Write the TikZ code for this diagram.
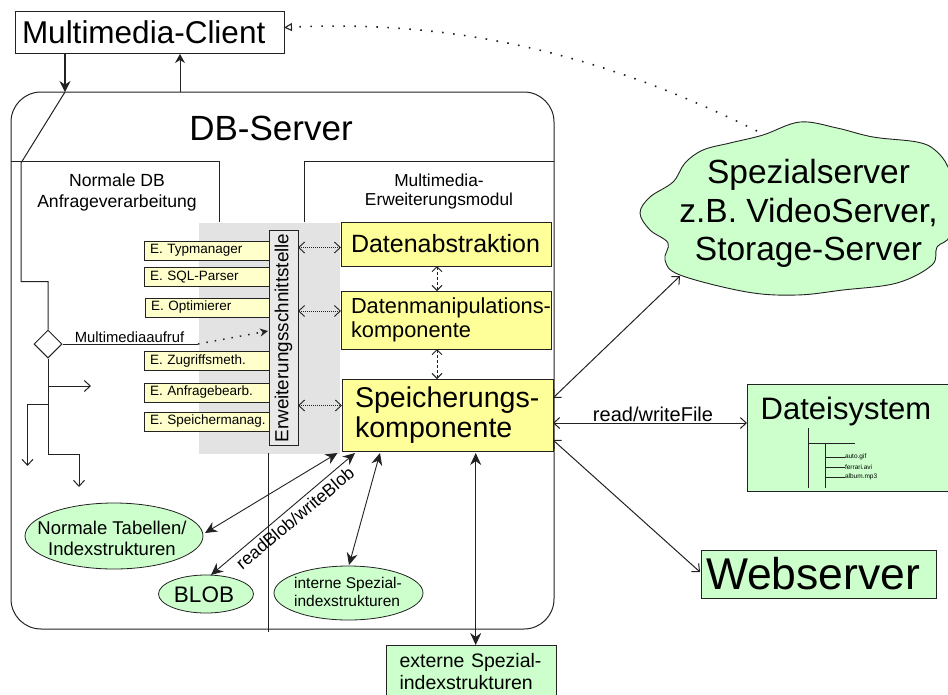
\documentclass[tikz,border=0pt]{standalone}
\usepackage{fontspec}
\setmainfont{Liberation Sans}
\usetikzlibrary{arrows.meta,shapes.geometric,calc}
\definecolor{ygl}{HTML}{FFFF99}
\definecolor{ylt}{HTML}{FFFFCC}
\definecolor{grn}{HTML}{CCFFCC}
\definecolor{gry}{HTML}{E3E3E3}
\definecolor{lin}{HTML}{222222}
\newcommand{\fs}[2]{\fontsize{#1}{#2}\selectfont}
\tikzset{
  x=1pt,y=-1pt,
  bx/.style={draw=lin,inner sep=0pt,outer sep=0pt,text=black,line width=1pt},
  ebox/.style={bx,fill=ylt,anchor=north west,minimum height=19pt,font=\fs{13.5}{13.5},align=left,text width=115pt,inner xsep=6pt},
  ybox/.style={bx,fill=ygl,align=left},
  gbox/.style={bx,fill=grn},
  gell/.style={bx,ellipse,fill=grn,line width=0.8pt},
  lbl/.style={draw=none,inner sep=0pt,outer sep=0pt,text=black},
  fdbl/.style={{Stealth[length=12pt,width=11pt]}-{Stealth[length=12pt,width=11pt]},line width=0.9pt},
  odbl/.style={{Straight Barb[length=6pt,width=11pt]}-{Straight Barb[length=6pt,width=11pt]},line width=1pt},
  dotdbl/.style={{Straight Barb[length=6pt,width=11pt]}-{Straight Barb[length=6pt,width=11pt]},dash pattern=on 1pt off 1pt,line width=0.9pt},
  dshdbl/.style={{Straight Barb[length=5pt,width=10pt]}-{Straight Barb[length=5pt,width=10pt]},dash pattern=on 3pt off 2pt,line width=0.9pt},
  oarr/.style={-{Straight Barb[length=6pt,width=11pt]},line width=1pt},
  farr/.style={-{Stealth[length=9pt,width=10pt]},line width=1pt},
}
\begin{document}
\begin{tikzpicture}[color=lin,line width=1pt]
\useasboundingbox (0,0) rectangle (948,694);
\clip (0,0) rectangle (948,694);
% DB server
\node[bx,draw=lin,fill=white,rounded corners=30pt,minimum width=543pt,minimum height=537pt,anchor=north west] (db) at (11,92) {};
\node[lbl,font=\fs{35}{35}] (dbt) at (271,128) {DB-Server};
% Client
\node[bx,fill=white,minimum width=269pt,minimum height=42pt,font=\fs{31.5}{32},anchor=north west,align=left,text width=255pt] (client) at (15,11) {Multimedia-Client};
% sub-areas
\coordinate (aL) at (11,161.5);\coordinate (aR) at (219,161.5);\coordinate (aB) at (219,222);
\coordinate (bL) at (304,222);\coordinate (bT) at (304,161.5);\coordinate (bR) at (554,161.5);
\draw (aL) -- (aR) -- (aB);
\draw (bL) -- (bT) -- (bR);
\node[lbl,font=\fs{17.6}{21},align=center] (tn) at (117,192.5) {Normale DB\\Anfrageverarbeitung};
\node[lbl,font=\fs{17.3}{19.5},align=center] (tm) at (439,191.5) {Multimedia-\\Erweiterungsmodul};
% grey
\node[draw=none,fill=gry,minimum width=141pt,minimum height=231pt,anchor=north west,inner sep=0pt] (grey) at (198,222) {};
\coordinate (vt) at (268,453);\coordinate (vb) at (268,632);
\draw (vt) -- (vb);
% E boxes
\node[ebox] (e1) at (144,241) {E. Typmanager};
\node[ebox] (e2) at (144,267.5) {\mbox{E. SQL-Parser}};
\node[ebox] (e3) at (145,298) {E. Optimierer};
\node[ebox] (e4) at (144,351.5) {\mbox{E. Zugriffsmeth.}};
\node[ebox] (e5) at (144,383) {\mbox{E. Anfragebearb.}};
\node[ebox] (e6) at (144,412) {\mbox{E. Speichermanag.}};
\node[bx,fill=gry!80!white,minimum width=29pt,minimum height=215pt,anchor=north west] (ew) at (269,230) {};
\node[lbl,rotate=90,font=\fs{18.9}{19}] (ewt) at (283.5,338) {Erweiterungsschnittstelle};
% yellow
\node[ybox,minimum width=210pt,minimum height=44pt,anchor=north west,font=\fs{25}{25},text width=190pt] (d1) at (341,222) {\raisebox{-2pt}{Datenabstraktion}};
\node[ybox,minimum width=210pt,minimum height=58pt,anchor=north west,font=\fs{21.8}{24},text width=190pt] (d2) at (341,291) {\mbox{Datenmanipulations-}\\komponente};
\node[ybox,minimum width=211pt,minimum height=72pt,anchor=north west,font=\fs{28.6}{30},text width=185pt] (d3) at (342,379) {\mbox{Speicherungs-}\\komponente};
% dotted double arrows
\coordinate (c1) at (298,247.5);\coordinate (c1b) at (341,247.5);
\coordinate (c2) at (298,311);\coordinate (c2b) at (341,311);
\coordinate (c3) at (298,405.5);\coordinate (c3b) at (342,405.5);
\draw[dotdbl] (c1) -- (c1b);
\draw[dotdbl] (c2) -- (c2b);
\draw[dotdbl] (c3) -- (c3b);
\coordinate (v1) at (437,266);\coordinate (v1b) at (437,291);
\coordinate (v2) at (437,349);\coordinate (v2b) at (437,379);
\draw[dshdbl] (v1) -- (v1b);
\draw[dshdbl] (v2) -- (v2b);
% client connectors
\coordinate (cd) at (65,53);\coordinate (cdb) at (65,92);
\coordinate (cu) at (180,92);\coordinate (cut) at (180,54);
\draw[-{Stealth[length=11pt,width=11pt]},line width=1.2pt] (cd) -- (cdb);
\draw[farr] (cu) -- (cut);
% flow
\node[draw=lin,diamond,fill=white,minimum width=28pt,minimum height=28pt,inner sep=0pt,aspect=1] (dia) at (48,344) {};
\coordinate (p1) at (21,163);\coordinate (p2) at (21,281.5);\coordinate (p3) at (48,281.5);
\draw (cdb) -- (p1) -- (p2) -- (p3) -- (dia.north);
\coordinate (q1) at (48,454);\coordinate (q2) at (79,454);\coordinate (q3) at (79,487);
\draw[oarr] (dia.south) -- (q1) -- (q2) -- (q3);
\coordinate (r1) at (48,386);\coordinate (r2) at (91,386);
\draw[oarr] (r1) -- (r2);
\coordinate (s1) at (48,404);\coordinate (s2) at (27.5,404);\coordinate (s3) at (27.5,466);
\draw[oarr] (s1) -- (s2) -- (s3);
\coordinate (m1) at (198,344);\coordinate (m2) at (268,331);
\draw (dia.east) -- (m1);
\draw[dash pattern=on 1.5pt off 7pt,line width=1.5pt,-{Stealth[length=8pt,width=8pt]}] (m1) -- (m2);
\node[lbl,font=\fs{14.8}{15}] (mm) at (129.5,337) {Multimediaaufruf};
% ellipses
\node[gell,minimum width=178pt,minimum height=66pt] (el1) at (114,536) {};
\node[lbl,font=\fs{18.5}{21},align=center] (el1t) at (112,538) {Normale Tabellen/\\Indexstrukturen};
\node[gell,minimum width=95pt,minimum height=38pt] (el2) at (206,594) {};
\node[lbl,font=\fs{22.5}{23}] (el2t) at (204,595) {BLOB};
\node[gell,minimum width=149pt,minimum height=54pt] (el3) at (348.5,593) {};
\node[lbl,font=\fs{15.5}{18},align=left] (el3t) at (348,592) {interne Spezial-\\indexstrukturen};
% external
\node[gbox,minimum width=170pt,minimum height=54pt,anchor=north west,font=\fs{19.5}{22},align=left,text width=143pt] (ext) at (386,645) {externe Spezial-\\indexstrukturen};
% bottom arrows
\coordinate (b1) at (337.5,453);\coordinate (b1e) at (205,533);
\coordinate (b2) at (355,453);\coordinate (b2e) at (211,575);
\coordinate (b3) at (380,453);\coordinate (b3e) at (349,565);
\coordinate (b4) at (475.7,453);\coordinate (b4e) at (475.7,645);
\draw[fdbl] (b1) -- (b1e);
\draw[fdbl] (b2) -- (b2e);
\draw[fdbl] (b3) -- (b3e);
\draw[fdbl] (b4) -- (b4e);
\node[lbl,rotate=40,font=\fs{17.6}{18}] (rb) at (295,518) {readBlob/writeBlob};
% cloud
\draw[fill=grn,line width=0.9pt] plot[smooth cycle,tension=0.6] coordinates {
(640,213) (650,197) (673,182) (685,163) (703,150) (730,143) (763,135) (800,122)
(837,128) (873,137) (917,142) (935,150) (948,167) (953,193) (950,235) (937,247) (932,265)
(897,283) (843,290) (797,295) (747,292) (680,275) (665,260) (668,243) (650,230)};
\node[lbl,font=\fs{33.5}{38.5},align=center] (cl) at (808.5,213.5) {Spezialserver\\z.B. VideoServer,\\Storage-Server};
\coordinate (cl1) at (757,131);\coordinate (cl2) at (284,27.5);
\draw[dash pattern=on 1.6pt off 9.4pt,line width=1.6pt,-{Triangle[open,length=8pt,width=8pt,line width=1.1pt,sep=0pt]}] (cl1) .. controls (630,68) and (480,18) .. (cl2);
% Dateisystem
\node[gbox,minimum width=210pt,minimum height=107pt,anchor=north west] (dat) at (747,384) {};
\node[lbl,font=\fs{31}{31}] (datt) at (846,411) {Dateisystem};
\coordinate (t1) at (808.5,428);\coordinate (t2) at (808.5,488);\coordinate (t3) at (808.5,443);\coordinate (t4) at (855,443);
\coordinate (t5) at (825,443);\coordinate (t6) at (825,488);
\draw[line width=0.8pt] (t1) -- (t2);\draw[line width=0.8pt] (t3) -- (t4);\draw[line width=0.8pt] (t5) -- (t6);
\node[lbl,font=\fs{6.5}{7},anchor=west] (f1) at (845,457) {auto.gif};
\node[lbl,font=\fs{6.5}{7},anchor=west] (f2) at (845,467) {ferrari.avi};
\node[lbl,font=\fs{6.5}{7},anchor=west] (f3) at (845,477) {album.mp3};
\coordinate (u1) at (825,457);\coordinate (u2) at (825,467);\coordinate (u3) at (825,477);
\draw[line width=0.7pt] (u1) -- (f1.west);\draw[line width=0.7pt] (u2) -- (f2.west);\draw[line width=0.7pt] (u3) -- (f3.west);
% Webserver
\node[gbox,minimum width=235pt,minimum height=48pt,anchor=north west,font=\fs{44.5}{45},align=left,text width=225pt] (web) at (701,550) {Webserver};
% right arrows
\coordinate (x1) at (553,398);\coordinate (x1e) at (680,276);
\coordinate (x2) at (553,423);\coordinate (x2e) at (747,423);
\coordinate (x3) at (553,440);\coordinate (x3e) at (700,572);
\draw[odbl] (x1) -- (x1e);
\draw[odbl] (x2) -- (x2e);
\draw[odbl] (x3) -- (x3e);
\node[lbl,font=\fs{20}{20}] (rw) at (653,414) {read/writeFile};
\end{tikzpicture}
\end{document}
